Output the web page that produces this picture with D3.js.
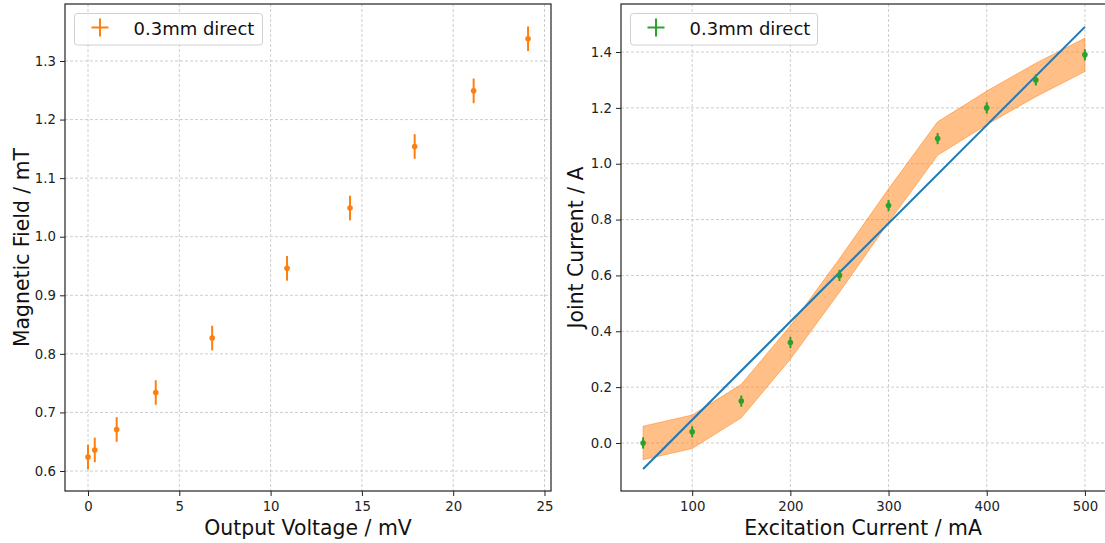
<!DOCTYPE html>
<html><head><meta charset="utf-8">
<script src="https://cdn.jsdelivr.net/npm/d3@7"></script>
<style>body{margin:0;background:#fff} text{font-family:"DejaVu Sans",sans-serif}</style>
</head><body><svg id="c" width="1105" height="543"></svg>
<script>
// ---- data (left panel) ----
const voltage = [0, 0.37, 1.57, 3.71, 6.8, 10.9, 14.35, 17.89, 21.12, 24.1];
const field = [0.624, 0.636, 0.671, 0.734, 0.827, 0.946, 1.049, 1.154, 1.249, 1.338];
const fieldErr = [0.021, 0.021, 0.021, 0.021, 0.021, 0.021, 0.021, 0.021, 0.021, 0.021];
// ---- data (right panel) ----
const current = [50, 100, 150, 200, 250, 300, 350, 400, 450, 500];
const joint = [0.0, 0.04, 0.15, 0.36, 0.60, 0.85, 1.09, 1.20, 1.30, 1.39];
const jointErr = [0.02, 0.02, 0.02, 0.02, 0.02, 0.02, 0.02, 0.02, 0.02, 0.02];
const bandLow = [-0.06, -0.02, 0.09, 0.30, 0.54, 0.79, 1.03, 1.14, 1.24, 1.33];
const bandHigh = [0.06, 0.10, 0.21, 0.42, 0.66, 0.91, 1.15, 1.26, 1.36, 1.45];
const fitX = [50, 500];
const fitY = [-0.093, 1.490];
// ---- ticks ----
const leftXTicks = [0, 5, 10, 15, 20, 25];
const leftYTicks = [0.6, 0.7, 0.8, 0.9, 1.0, 1.1, 1.2, 1.3];
const rightXTicks = [100, 200, 300, 400, 500];
const rightYTicks = [0.0, 0.2, 0.4, 0.6, 0.8, 1.0, 1.2, 1.4];
const legendLabel = "0.3mm direct";

const svg = d3.select("#c");
const C0 = "#1f77b4", C1 = "#ff7f0e", C2 = "#2ca02c";

function panel(o) {
  const g = svg.append("g");
  const x = d3.scaleLinear().domain(o.xd).range(o.xr);
  const y = d3.scaleLinear().domain(o.yd).range(o.yr);
  const [x0, x1] = o.xr, [y1, y0] = o.yr;
  const clipId = "clip" + Math.round(x0);
  svg.append("clipPath").attr("id", clipId).append("rect")
    .attr("x", x0).attr("y", y0).attr("width", x1 - x0).attr("height", y1 - y0);
  // grid
  const grid = g.append("g").attr("stroke", "#c8c8c8").attr("stroke-width", 0.9).attr("stroke-dasharray", "3,2");
  o.xt.forEach(t => grid.append("line").attr("x1", x(t)).attr("x2", x(t)).attr("y1", y0).attr("y2", y1));
  o.yt.forEach(t => grid.append("line").attr("y1", y(t)).attr("y2", y(t)).attr("x1", x0).attr("x2", x1));
  const plot = g.append("g").attr("clip-path", `url(#${clipId})`);
  o.draw(plot, x, y);
  // axes
  const ax = g.append("g").attr("transform", `translate(0,${y1})`)
    .call(d3.axisBottom(x).tickValues(o.xt).tickFormat(o.xf).tickSize(5).tickPadding(6));
  const ay = g.append("g").attr("transform", `translate(${x0},0)`)
    .call(d3.axisLeft(y).tickValues(o.yt).tickFormat(o.yf).tickSize(5).tickPadding(4));
  [ax, ay].forEach(a => {
    a.select(".domain").remove();
    a.selectAll("text").attr("font-size", 13.3).attr("fill", "#222").attr("font-family", "DejaVu Sans");
    a.selectAll("line").attr("stroke", "#222");
  });
  // spines
  g.append("rect").attr("x", x0).attr("y", y0).attr("width", x1 - x0).attr("height", y1 - y0)
    .attr("fill", "none").attr("stroke", "#222").attr("stroke-width", 1.2);
  // labels
  g.append("text").attr("x", (x0 + Math.min(x1, 1105)) / 2 + o.xlOff).attr("y", 535).attr("text-anchor", "middle")
    .attr("font-size", 20.4).attr("fill", "#111").text(o.xl);
  g.append("text").attr("transform", `translate(${o.ylx},${(y0 + y1) / 2}) rotate(-90)`)
    .attr("text-anchor", "middle").attr("font-size", 20.4).attr("fill", "#111").text(o.yl);
  // legend
  const lg = g.append("g").attr("transform", `translate(${x0 + 9.5},${y0 + 9.5})`);
  lg.append("rect").attr("width", o.lw).attr("height", 31.5).attr("rx", 3)
    .attr("fill", "#fff").attr("fill-opacity", 0.8).attr("stroke", "#d0d0d0");
  lg.append("line").attr("x1", 17).attr("x2", 34).attr("y1", 14).attr("y2", 14).attr("stroke", o.c).attr("stroke-width", 2);
  lg.append("line").attr("x1", 25.5).attr("x2", 25.5).attr("y1", 5).attr("y2", 23).attr("stroke", o.c).attr("stroke-width", 2);
  lg.append("text").attr("x", 59).attr("y", 21).attr("font-size", 18).attr("fill", "#111").text(legendLabel);
}

function errorbars(p, x, y, xs, ys, es, col) {
  const d = xs.map((v, i) => ({x: v, y: ys[i], e: es[i]}));
  p.append("g").selectAll("line").data(d).join("line")
    .attr("x1", d => x(d.x)).attr("x2", d => x(d.x))
    .attr("y1", d => y(d.y - d.e)).attr("y2", d => y(d.y + d.e))
    .attr("stroke", col).attr("stroke-width", 2);
  p.append("g").selectAll("circle").data(d).join("circle")
    .attr("cx", d => x(d.x)).attr("cy", d => y(d.y)).attr("r", 2.8).attr("fill", col);
}

panel({
  xd: [-1.26, 25.356], xr: [65, 551], yd: [0.5659, 1.3973], yr: [491, 4],
  xt: leftXTicks, yt: leftYTicks, xf: d3.format("d"), yf: d3.format(".1f"),
  xl: "Output Voltage / mV", yl: "Magnetic Field / mT", ylx: 29, xlOff: 0, c: C1, lw: 188,
  draw: (p, x, y) => errorbars(p, x, y, voltage, field, fieldErr, C1)
});

panel({
  xd: [27.5, 522.5], xr: [621, 1107], yd: [-0.172, 1.572], yr: [491, 4],
  xt: rightXTicks, yt: rightYTicks, xf: d3.format("d"), yf: d3.format(".1f"),
  xl: "Excitation Current / mA", yl: "Joint Current / A", ylx: 583, xlOff: 0, c: C2, lw: 187,
  draw: (p, x, y) => {
    const area = d3.area().x((d, i) => x(current[i])).y0((d, i) => y(bandLow[i])).y1((d, i) => y(bandHigh[i]));
    p.append("path").datum(current).attr("d", area)
      .attr("fill", C1).attr("fill-opacity", 0.5).attr("stroke", C1).attr("stroke-opacity", 0.5).attr("stroke-width", 1);
    const line = d3.line().x((d, i) => x(fitX[i])).y((d, i) => y(fitY[i]));
    p.append("path").datum(fitX).attr("d", line).attr("fill", "none").attr("stroke", C0).attr("stroke-width", 2);
    errorbars(p, x, y, current, joint, jointErr, C2);
  }
});
</script></body></html>
